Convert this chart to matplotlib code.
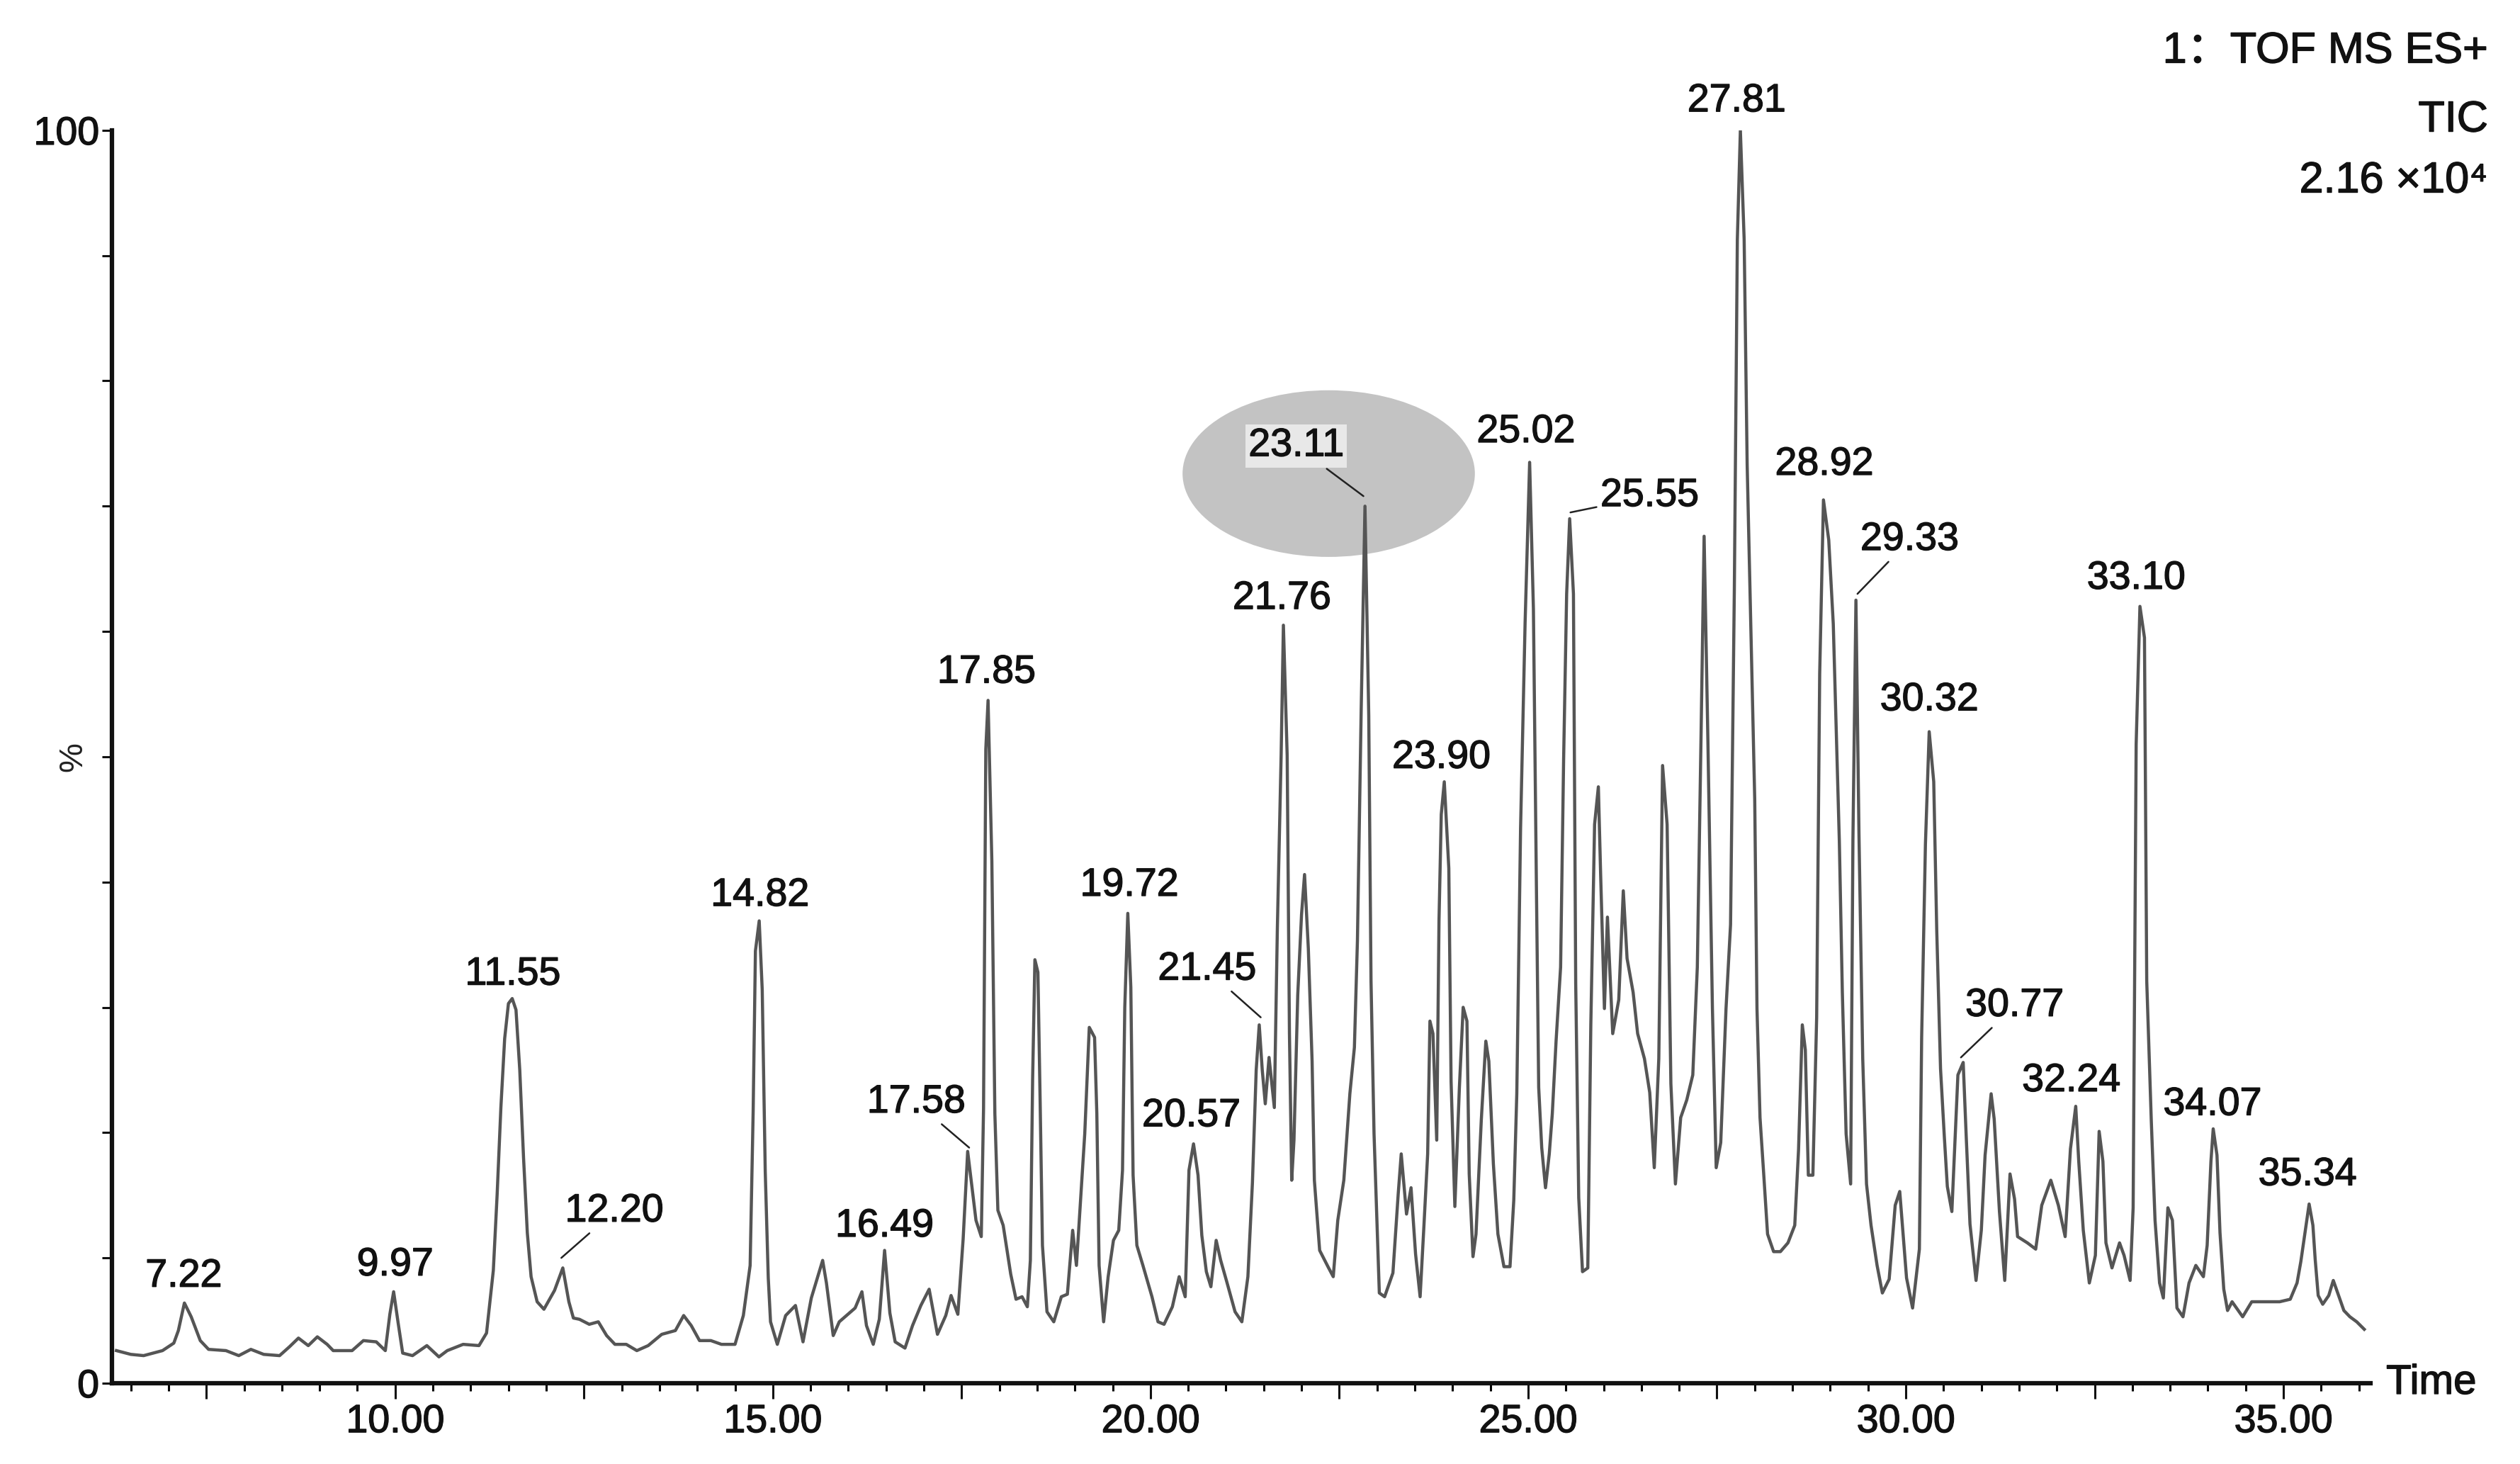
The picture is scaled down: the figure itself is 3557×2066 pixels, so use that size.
import matplotlib
matplotlib.use('Agg')
import matplotlib.pyplot as plt
import matplotlib.patheffects as pe
from matplotlib.patches import Ellipse

# TIC trace (retention time in min, relative intensity in %)
time_min = [
    6.31, 6.50, 6.67, 6.92, 7.07, 7.13, 7.21, 7.30, 7.42, 7.53, 7.76, 7.93, 8.09, 8.26, 8.47,
    8.60, 8.72, 8.85, 8.97, 9.10, 9.18, 9.43, 9.58, 9.75, 9.87, 9.93, 9.98, 10.04, 10.10, 10.23,
    10.42, 10.58, 10.69, 10.90, 11.11, 11.21, 11.30, 11.35, 11.40, 11.45, 11.50, 11.55, 11.60, 11.65, 11.70,
    11.75, 11.80, 11.88, 11.97, 12.11, 12.22, 12.30, 12.36, 12.44, 12.57, 12.69, 12.80, 12.91, 13.06,
    13.20, 13.35, 13.53, 13.71, 13.82, 13.92, 14.03, 14.18, 14.32, 14.50, 14.61, 14.70, 14.74, 14.77, 14.82,
    14.86, 14.90, 14.94, 14.97, 15.06, 15.17, 15.30, 15.40, 15.51, 15.66, 15.71, 15.80, 15.88, 16.09, 16.18,
    16.24, 16.33, 16.41, 16.48, 16.55, 16.62, 16.75, 16.85, 16.96, 17.07, 17.18, 17.29, 17.36, 17.45, 17.52,
    17.58, 17.64, 17.69, 17.76, 17.79, 17.82, 17.85, 17.90, 17.94, 17.98, 18.05, 18.15, 18.22, 18.30, 18.37,
    18.41, 18.44, 18.47, 18.51, 18.54, 18.57, 18.63, 18.72, 18.82, 18.90, 18.97, 19.02, 19.07, 19.13, 19.19,
    19.26, 19.29, 19.32, 19.38, 19.44, 19.51, 19.58, 19.63, 19.66, 19.70, 19.74, 19.77, 19.82, 19.90, 20.02,
    20.10, 20.18, 20.29, 20.38, 20.46, 20.51, 20.57, 20.63, 20.68, 20.74, 20.80, 20.87, 20.93, 21.01, 21.12,
    21.21, 21.29, 21.35, 21.40, 21.44, 21.48, 21.52, 21.57, 21.64, 21.68, 21.73, 21.76, 21.81, 21.84, 21.87,
    21.90, 21.95, 22.00, 22.04, 22.09, 22.14, 22.17, 22.24, 22.35, 22.42, 22.48, 22.56, 22.64, 22.70, 22.74,
    22.79, 22.84, 22.89, 22.92, 22.96, 23.03, 23.10, 23.21, 23.28, 23.32, 23.39, 23.45, 23.51, 23.57, 23.62,
    23.67, 23.70, 23.74, 23.79, 23.82, 23.85, 23.89, 23.95, 23.98, 24.03, 24.09, 24.14, 24.19, 24.22, 24.27,
    24.31, 24.38, 24.44, 24.48, 24.54, 24.60, 24.68, 24.76, 24.81, 24.85, 24.90, 24.96, 25.02, 25.07, 25.11,
    25.14, 25.18, 25.23, 25.28, 25.32, 25.37, 25.43, 25.47, 25.51, 25.55, 25.60, 25.63, 25.67, 25.72, 25.79,
    25.83, 25.88, 25.93, 25.96, 26.01, 26.05, 26.12, 26.20, 26.26, 26.31, 26.39, 26.45, 26.54, 26.61, 26.67,
    26.73, 26.78, 26.84, 26.89, 26.95, 27.02, 27.10, 27.18, 27.24, 27.29, 27.33, 27.38, 27.44, 27.49, 27.55,
    27.62, 27.68, 27.73, 27.77, 27.81, 27.86, 27.90, 27.95, 28.00, 28.03, 28.07, 28.12, 28.17, 28.25, 28.34,
    28.44, 28.53, 28.58, 28.63, 28.67, 28.71, 28.77, 28.82, 28.86, 28.91, 28.98, 29.04, 29.12, 29.16, 29.21,
    29.27, 29.30, 29.34, 29.38, 29.43, 29.48, 29.54, 29.62, 29.69, 29.78, 29.86, 29.92, 30.01, 30.09, 30.18,
    30.21, 30.26, 30.31, 30.37, 30.41, 30.46, 30.51, 30.55, 30.61, 30.65, 30.69, 30.76, 30.80, 30.85, 30.93,
    31.00, 31.05, 31.13, 31.17, 31.24, 31.31, 31.38, 31.44, 31.48, 31.61, 31.72, 31.80, 31.92, 32.02, 32.11,
    32.18, 32.25, 32.29, 32.35, 32.43, 32.51, 32.56, 32.61, 32.65, 32.73, 32.83, 32.89, 32.97, 33.01, 33.05,
    33.10, 33.16, 33.19, 33.25, 33.30, 33.36, 33.41, 33.47, 33.53, 33.59, 33.67, 33.75, 33.84, 33.94, 33.99,
    34.04, 34.07, 34.12, 34.16, 34.21, 34.26, 34.32, 34.46, 34.58, 34.77, 34.95, 35.09, 35.18, 35.23, 35.28,
    35.34, 35.39, 35.42, 35.46, 35.52, 35.60, 35.66, 35.73, 35.80, 35.88, 35.97, 36.07,
]
intensity_pct = [
    2.6, 2.3, 2.2, 2.6, 3.2, 4.2, 6.4, 5.3, 3.4, 2.7, 2.6, 2.2, 2.7, 2.3, 2.2,
    2.9, 3.6, 3.0, 3.7, 3.1, 2.6, 2.6, 3.4, 3.3, 2.6, 5.5, 7.3, 4.8, 2.4, 2.2,
    3.0, 2.1, 2.6, 3.1, 3.0, 4.0, 9.0, 15.0, 22.0, 27.5, 30.3, 30.7, 29.8, 25.0, 18.0,
    12.0, 8.5, 6.5, 5.9, 7.4, 9.2, 6.5, 5.2, 5.1, 4.7, 4.9, 3.8, 3.1, 3.1,
    2.6, 3.0, 3.9, 4.2, 5.4, 4.6, 3.4, 3.4, 3.1, 3.1, 5.4, 9.4, 21.7, 34.5, 36.9,
    31.4, 16.9, 8.4, 4.9, 3.1, 5.4, 6.2, 3.3, 6.8, 9.8, 8.0, 3.8, 4.9, 6.0, 7.3,
    4.6, 3.1, 5.1, 10.6, 5.6, 3.3, 2.8, 4.6, 6.2, 7.5, 3.9, 5.4, 7.0, 5.5, 11.5,
    18.5, 15.5, 13.0, 11.7, 21.9, 50.6, 54.5, 41.7, 21.5, 13.8, 12.6, 8.7, 6.7, 6.9, 6.1,
    9.8, 24.3, 33.8, 32.8, 22.3, 11.0, 5.7, 4.9, 6.9, 7.1, 12.2, 9.4, 14.2, 19.9, 28.4,
    27.6, 21.5, 9.4, 4.9, 8.5, 11.4, 12.2, 17.0, 30.0, 37.5, 31.6, 16.6, 11.0, 9.4, 6.9,
    4.9, 4.7, 6.1, 8.5, 6.9, 17.0, 19.1, 16.6, 11.8, 8.9, 7.7, 11.4, 9.8, 8.1, 5.7,
    4.9, 8.5, 16.0, 25.0, 28.6, 25.0, 22.3, 26.0, 22.0, 36.3, 50.1, 60.5, 50.1, 27.9, 16.2,
    19.4, 31.0, 37.4, 40.6, 34.7, 25.7, 16.2, 10.6, 9.3, 8.5, 13.0, 16.2, 23.1, 26.8, 35.3,
    53.8, 70.0, 53.3, 32.1, 19.9, 7.2, 6.9, 8.8, 15.1, 18.3, 13.5, 15.6, 10.3, 6.9, 12.5,
    18.3, 28.9, 27.9, 19.4, 36.9, 45.4, 48.0, 41.1, 24.1, 14.1, 23.6, 30.0, 28.9, 16.7, 10.1,
    11.9, 21.0, 27.3, 25.7, 17.5, 11.9, 9.3, 9.3, 14.6, 23.1, 44.3, 60.7, 73.5, 61.8, 39.5,
    23.6, 18.8, 15.6, 18.3, 21.5, 27.3, 33.2, 49.8, 63.0, 69.0, 63.0, 31.9, 14.8, 8.9, 9.2,
    28.6, 44.6, 47.6, 40.6, 29.9, 37.2, 27.9, 30.6, 39.3, 33.9, 31.2, 27.9, 25.9, 23.2, 17.2,
    25.9, 49.3, 44.6, 23.9, 15.9, 21.2, 22.6, 24.6, 33.2, 51.9, 67.6, 51.3, 29.9, 17.2, 19.2,
    29.9, 36.6, 63.3, 91.3, 100.0, 91.3, 73.3, 59.9, 46.6, 29.9, 21.2, 16.6, 11.9, 10.5, 10.5,
    11.2, 12.6, 18.6, 28.6, 26.6, 16.6, 16.6, 29.2, 56.6, 70.5, 67.3, 60.6, 43.3, 31.2, 19.9,
    15.9, 43.3, 62.5, 43.9, 25.9, 15.9, 12.6, 9.4, 7.2, 8.3, 14.2, 15.3, 8.4, 6.0, 10.7,
    27.6, 43.0, 52.0, 48.0, 36.1, 25.1, 19.7, 15.7, 13.7, 19.2, 24.6, 25.6, 19.7, 12.7, 8.2,
    12.2, 18.2, 23.1, 21.1, 13.7, 8.2, 16.7, 14.7, 11.7, 11.2, 10.7, 14.2, 16.2, 14.2, 11.7,
    18.7, 22.1, 17.7, 12.2, 8.0, 10.2, 20.1, 17.7, 11.2, 9.2, 11.2, 10.2, 8.2, 14.0, 51.0,
    62.0, 59.5, 32.1, 21.0, 13.0, 8.0, 6.8, 14.0, 13.0, 6.0, 5.3, 8.0, 9.4, 8.5, 11.0,
    17.7, 20.3, 18.2, 12.0, 7.5, 5.8, 6.5, 5.3, 6.5, 6.5, 6.5, 6.7, 8.0, 9.7, 11.8,
    14.3, 12.6, 9.9, 7.0, 6.3, 7.0, 8.2, 7.0, 5.8, 5.3, 4.9, 4.3,
]

# peak labels: text and where the label sits
label_text = ['7.22', '9.97', '11.55', '12.20', '14.82', '16.49', '17.58', '17.85', '19.72',
              '20.57', '21.45', '21.76', '23.11', '23.90', '25.02', '25.55', '27.81', '28.92',
              '29.33', '30.32', '30.77', '32.24', '33.10', '34.07', '35.34']
label_x = [7.20, 10.00, 11.56, 12.90, 14.83, 16.48, 16.90, 17.83, 19.72,
           20.54, 20.75, 21.74, 21.93, 23.85, 24.97, 26.61, 27.76, 28.92,
           30.05, 30.31, 31.44, 32.19, 33.05, 34.06, 35.32]
label_y = [8.5, 9.4, 32.6, 13.7, 38.9, 12.5, 22.4, 56.7, 39.7,
           21.3, 33.0, 62.6, 74.8, 49.9, 75.9, 70.8, 102.3, 73.3,
           67.3, 54.5, 30.1, 24.1, 64.2, 22.2, 16.6]

# labels tied to their peak by a leader line, and the peak tip they point at
leader_text = ['12.20', '17.58', '21.45', '23.11', '25.55', '29.33', '30.77']
leader_peak_x = [12.20, 17.60, 21.46, 22.82, 25.56, 29.36, 30.73]
leader_peak_y = [10.0, 18.8, 29.2, 70.8, 69.5, 63.0, 26.0]

x_major = [7.5, 10.0, 12.5, 15.0, 17.5, 20.0, 22.5, 25.0, 27.5, 30.0, 32.5, 35.0]

FONT = ['Liberation Sans', 'DejaVu Sans']
plt.rcParams['font.family'] = FONT
INK = '#111111'
# the scanned original has slightly heavy glyphs
heavy = [pe.withStroke(linewidth=1.0, foreground=INK)]

fig = plt.figure(figsize=(35.57, 20.66), dpi=100)
ax = fig.add_axes([0.0444, 0.0552, 0.8962, 0.8558])

# highlighted region around the 23.11 peak
ax.add_patch(Ellipse((22.36, 72.6), 3.87, 13.3, facecolor='#c3c3c3', edgecolor='none', zorder=1))

ax.plot(time_min, intensity_pct, color='#555555', lw=3.2, zorder=2)

for txt, lx, ly in zip(label_text, label_x, label_y):
    box = None
    if txt == '23.11':
        box = dict(boxstyle='square,pad=0.08', facecolor='#e8e8e8', edgecolor='none')
    if txt in leader_text:
        i = leader_text.index(txt)
        ax.annotate(txt, xy=(leader_peak_x[i], leader_peak_y[i]), xytext=(lx, ly),
                    ha='center', va='center', fontsize=40, color=INK, bbox=box,
                    arrowprops=dict(arrowstyle='-', color='#222222', lw=1.8, shrinkA=2, shrinkB=0),
                    zorder=3, annotation_clip=False, path_effects=heavy)
    else:
        ax.text(lx, ly, txt, ha='center', va='center', fontsize=40, color=INK,
                bbox=box, zorder=3, clip_on=False, path_effects=heavy)

ax.set_xlim(6.25, 36.15)
ax.set_ylim(0, 100)

for side in ['top', 'right']:
    ax.spines[side].set_visible(False)
for side in ['left', 'bottom']:
    ax.spines[side].set_linewidth(4.5)
    ax.spines[side].set_color(INK)

ax.set_xticks(x_major)
ax.set_xticklabels([f'{v:.2f}' if v % 5 == 0 else '' for v in x_major])
ax.set_xticks([6.5 + 0.5 * k for k in range(60)], minor=True)
ax.tick_params(axis='x', which='major', length=16, width=2.2, direction='out', pad=5,
               labelsize=40, colors=INK)
ax.tick_params(axis='x', which='minor', length=8, width=2.2, direction='out')

ax.set_yticks(range(0, 101, 10))
ax.set_yticklabels(['0'] + [''] * 9 + ['100'])
ax.tick_params(axis='y', length=10, width=2.2, direction='out', pad=3, labelsize=40,
               colors=INK)
for lab in ax.get_xticklabels() + ax.get_yticklabels():
    lab.set_path_effects(heavy)

ax.text(-0.017, 0.5, '%', transform=ax.transAxes, rotation=90, ha='center', va='center',
        fontsize=34, color='#222222')

ax.text(36.36, 0, 'Time', ha='left', va='center', fontsize=42, color=INK, clip_on=False,
        path_effects=heavy)

# acquisition info, top right
fig.text(0.9873, 0.9647, '1：TOF MS ES+', ha='right', va='center', fontsize=44,
         family=['Liberation Sans', 'Noto Sans CJK SC'], color=INK, path_effects=heavy)
fig.text(0.9873, 0.9177, 'TIC', ha='right', va='center', fontsize=44, color=INK,
         path_effects=heavy)
fig.text(0.9873, 0.8761, '2.16 ×10⁴', ha='right', va='center', fontsize=44, color=INK,
         path_effects=heavy)

fig.savefig('out.png', dpi=100, facecolor='white')
